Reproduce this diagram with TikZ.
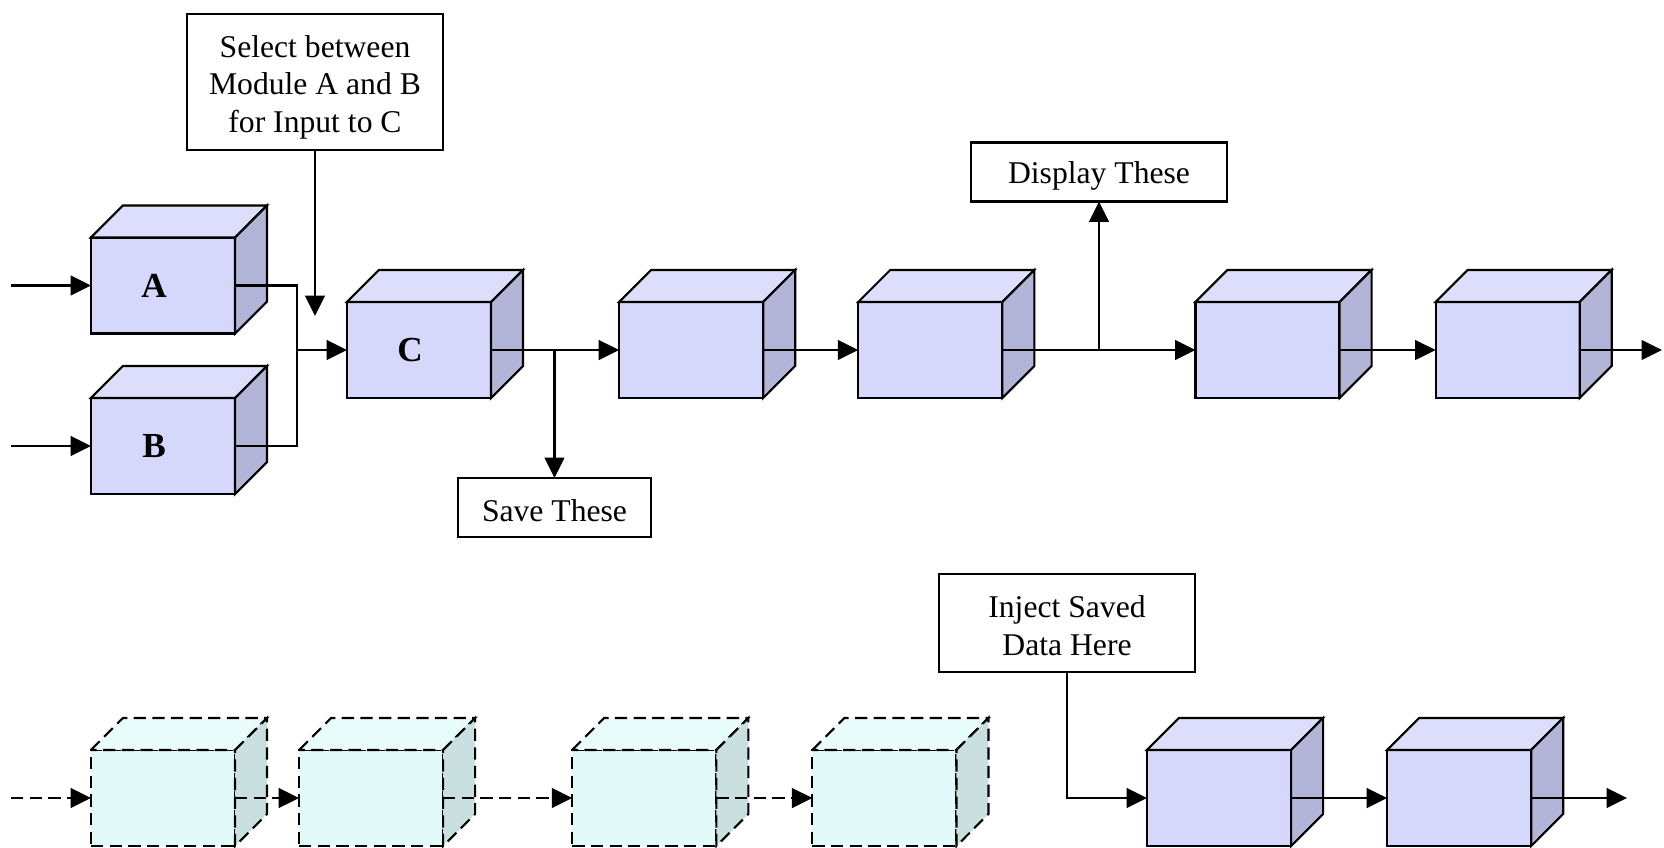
\documentclass[tikz,border=0pt]{standalone}
\usepackage{fontspec}
\setmainfont{Liberation Serif}
\usetikzlibrary{positioning}
\usetikzlibrary{arrows.meta}
\definecolor{lavfront}{HTML}{D5D7FB}
\definecolor{lavtop}{HTML}{DDDEFC}
\definecolor{lavside}{HTML}{B2B4D8}
\definecolor{cyanfront}{HTML}{E2FAFA}
\definecolor{cyantop}{HTML}{E8FCFC}
\definecolor{cyanside}{HTML}{CADFDF}

% top and side faces of a module cube
\newcommand{\cubefaces}[2]{%
  \draw[#1top] (#2.north west) -- ++(32,32) -- ++(144,0) -- (#2.north east) -- cycle;
  \draw[#1side] (#2.north east) -- ++(32,32) -- ++(0,-96) -- (#2.south east) -- cycle;}
% pushes a note's text a little down
\newcommand{\lowtext}[1]{\rule{0pt}{#1}}

\begin{document}
\begin{tikzpicture}[x=0.01cm, y=0.01cm,
        line width=0.6pt,
        font=\fontsize{9}{10.8}\selectfont,
        conn/.style={-{Triangle[length=5.8pt,width=5.6pt]}},
        ghostline/.style={dash pattern=on 3.5pt off 1.8pt},
        module/.style={
        draw=black,
        fill=lavfront,
        minimum width=1.44cm,
        minimum height=0.96cm,
        inner sep=0pt,
        outer sep=0pt},
        ghost/.style={module, ghostline, fill=cyanfront},
        solidtop/.style={draw=black, fill=lavtop},
        solidside/.style={draw=black, fill=lavside},
        ghosttop/.style={draw=black, ghostline, fill=cyantop},
        ghostside/.style={draw=black, ghostline, fill=cyanside},
        note/.style={
        draw=black,
        fill=white,
        align=center,
        inner sep=0pt,
        outer sep=0pt}]

        \path[use as bounding box, fill=white] (0,0) rectangle (1664,847);

        % upper chain
        \node[module, label={[font=\bfseries, xshift=-0.09cm]center:A}] (modA) at (163,561.5) {};
        \node[module, label={[font=\bfseries, xshift=-0.09cm]center:B}] (modB) at (163,401) {};
        \node[module, label={[font=\bfseries, xshift=-0.09cm]center:C}] (modC) at (419,497) {};
        \node[module] (modD) [right=1.28cm of modC] {};
        \node[module] (modE) [right=0.95cm of modD] {};
        \node[module] (modF) [right=1.93cm of modE] {};
        \node[module] (modG) [right=0.96cm of modF] {};
        \foreach \m in {modA,modB,modC,modD,modE,modF,modG} {\cubefaces{solid}{\m}}

        \node[note, minimum width=2.56cm, minimum height=1.36cm] (select) at (315,765) {\lowtext{9.3pt}Select between\\Module A and B\\for Input to C};
        \node[note, minimum width=2.56cm, minimum height=0.59cm] (display) at (1099,675) {\lowtext{8.4pt}Display These};
        \node[note, minimum width=1.93cm, minimum height=0.59cm] (save) at (554.5,339.5) {\lowtext{7.9pt}Save These};

        % lower chain
        \node[ghost] (ghostA) at (163,49) {};
        \node[ghost] (ghostB) [right=0.64cm of ghostA] {};
        \node[ghost] (ghostC) [right=1.29cm of ghostB] {};
        \node[ghost] (ghostD) [right=0.96cm of ghostC] {};
        \foreach \m in {ghostA,ghostB,ghostC,ghostD} {\cubefaces{ghost}{\m}}
        \node[module] (injA) at (1219,49) {};
        \node[module] (injB) [right=0.96cm of injA] {};
        \foreach \m in {injA,injB} {\cubefaces{solid}{\m}}

        \node[note, minimum width=2.56cm, minimum height=0.98cm] (inject) at (1067,224) {\lowtext{7.6pt}Inject Saved\\Data Here};

        \coordinate (inA) at (11,561.5);
        \coordinate (inB) at (11,401);
        \coordinate (joinAB) at (297,497);
        \coordinate (selTip) at (315,531);
        \coordinate (outTop) at (1662,497);
        \coordinate (inGhost) at (11,49);
        \coordinate (outLow) at (1627,49);

        \draw[conn] (inA) -- (modA.west);
        \draw[conn] (inB) -- (modB.west);
        \draw (modA.east) -| (joinAB) |- (modB.east);
        \draw[conn] (joinAB) -- (modC.west);
        \draw[conn] (select.south) -- (selTip);
        \draw[conn] (modC.east) -- (modD.west);
        \draw[conn] (modC.east -| save.north) -- (save.north);
        \draw[conn] (modD.east) -- (modE.west);
        \draw[conn] (modE.east) -- (modF.west);
        \draw[conn] (modE.east -| display.south) -- (display.south);
        \draw[conn] (modF.east) -- (modG.west);
        \draw[conn] (modG.east) -- (outTop);

        \draw[conn, ghostline] (inGhost) -- (ghostA.west);
        \draw[conn, ghostline] (ghostA.east) -- (ghostB.west);
        \draw[conn, ghostline] (ghostB.east) -- (ghostC.west);
        \draw[conn, ghostline] (ghostC.east) -- (ghostD.west);
        \draw[conn] (inject.south) |- (injA.west);
        \draw[conn] (injA.east) -- (injB.west);
        \draw[conn] (injB.east) -- (outLow);
\end{tikzpicture}
\end{document}
